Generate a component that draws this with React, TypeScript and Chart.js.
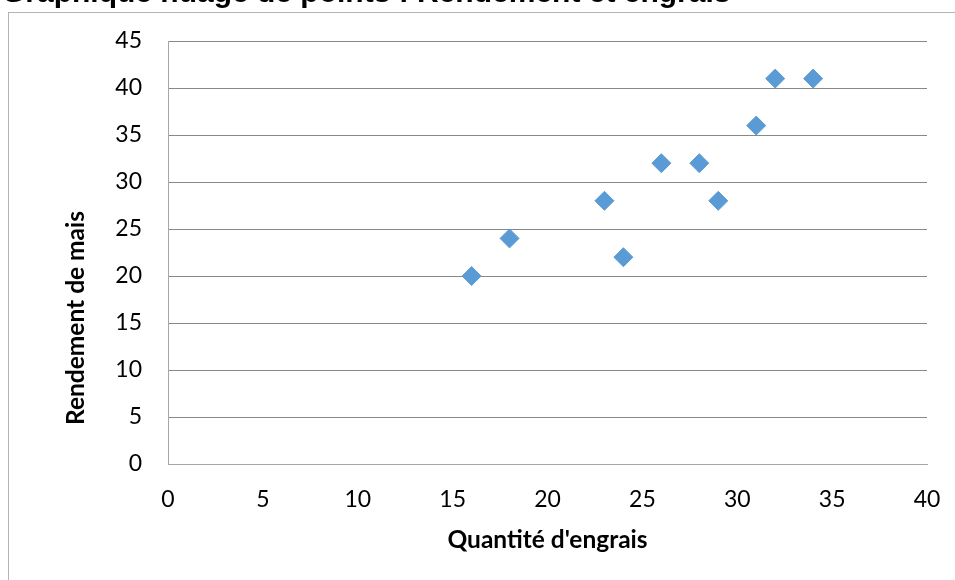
import { useEffect, useRef } from "react";
import { Chart, registerables } from "chart.js";

Chart.register(...registerables);

// Quantité d'engrais (x) et rendement de maïs (y) pour chaque parcelle
const engrais = [16, 18, 23, 24, 26, 28, 29, 31, 32, 34];
const rendement = [20, 24, 28, 22, 32, 32, 28, 36, 41, 41];

const chartTitle = "Graphique nuage de points : Rendement et engrais";
const xTitle = "Quantité d'engrais";
const yTitle = "Rendement de mais";

const xMax = 40;
const yMax = 45;
const tickStep = 5;

const fontFamily = "Lato, 'Open Sans', sans-serif";
const tickFont = { family: fontFamily, size: 23 };
const titleFont = { family: fontFamily, size: 24.5, weight: "bold" as const };

// Chart heading, drawn so that it sits mostly above the top edge of the canvas
const headingPlugin = {
  id: "heading",
  afterDraw(chart: Chart) {
    const { ctx } = chart;
    ctx.save();
    ctx.font = "bold 30px 'Liberation Sans', Arial, sans-serif";
    ctx.fillStyle = "#000";
    ctx.textAlign = "left";
    ctx.textBaseline = "alphabetic";
    ctx.fillText(chartTitle, 2, 2);
    ctx.restore();
  },
};

// Vertical axis title, set a little below the middle of the plot
const yTitlePlugin = {
  id: "yAxisTitle",
  afterDraw(chart: Chart) {
    const { ctx, chartArea } = chart;
    ctx.save();
    ctx.translate(76, chartArea.bottom - 146);
    ctx.rotate(-Math.PI / 2);
    ctx.font = `bold ${titleFont.size}px ${titleFont.family}`;
    ctx.fillStyle = "#000";
    ctx.textAlign = "center";
    ctx.textBaseline = "middle";
    ctx.fillText(yTitle, 0, 0);
    ctx.restore();
  },
};

export default function App() {
  const canvasRef = useRef<HTMLCanvasElement>(null);

  useEffect(() => {
    const canvas = canvasRef.current;
    if (!canvas) return;
    const chart = new Chart(canvas, {
      type: "scatter",
      data: {
        datasets: [
          {
            data: engrais.map((x, i) => ({ x, y: rendement[i] })),
            pointStyle: "rectRot",
            pointRadius: 9.5,
            pointHoverRadius: 9.5,
            pointBackgroundColor: "#5b9bd5",
            pointBorderColor: "#5b9bd5",
            pointBorderWidth: 1,
          },
        ],
      },
      options: {
        animation: false,
        responsive: false,
        layout: { autoPadding: false, padding: { left: 0, top: 41, right: 28, bottom: 0 } },
        plugins: {
          legend: { display: false },
          tooltip: { enabled: false },
        },
        scales: {
          x: {
            type: "linear",
            min: 0,
            max: xMax,
            ticks: {
              stepSize: tickStep,
              padding: 22,
              font: tickFont,
              color: "#000",
              maxRotation: 0,
            },
            grid: { color: "rgba(0,0,0,0)", drawTicks: false },
            border: { color: "#a6a6a6", width: 1 },
            title: {
              display: true,
              text: xTitle,
              font: titleFont,
              color: "#000",
              padding: { top: 0, bottom: 25 },
            },
            afterFit: (scale: any) => {
              scale.height = 116;
              scale.paddingLeft = 0;
              scale.paddingRight = 0;
            },
          },
          y: {
            type: "linear",
            min: 0,
            max: yMax,
            ticks: {
              stepSize: tickStep,
              padding: 26,
              font: tickFont,
              color: "#000",
            },
            grid: { color: "#888888", drawTicks: false },
            border: { color: "#a6a6a6", width: 1 },
            afterFit: (scale: any) => {
              scale.width = 168;
              scale.paddingTop = 0;
              scale.paddingBottom = 0;
            },
          },
        },
      },
      plugins: [yTitlePlugin, headingPlugin],
    });
    return () => chart.destroy();
  }, []);

  return (
    <div
      style={{
        position: "fixed",
        left: 0,
        top: 0,
        width: 955,
        height: 580,
        overflow: "hidden",
        background: "#fff",
      }}
    >
      <div
        style={{
          position: "absolute",
          left: 8,
          top: 12,
          width: 2000,
          height: 2000,
          border: "1px solid #b4b4b4",
        }}
      />
      <canvas
        ref={canvasRef}
        width={955}
        height={580}
        style={{ position: "absolute", left: 0, top: 0, width: 955, height: 580 }}
      />
    </div>
  );
}
